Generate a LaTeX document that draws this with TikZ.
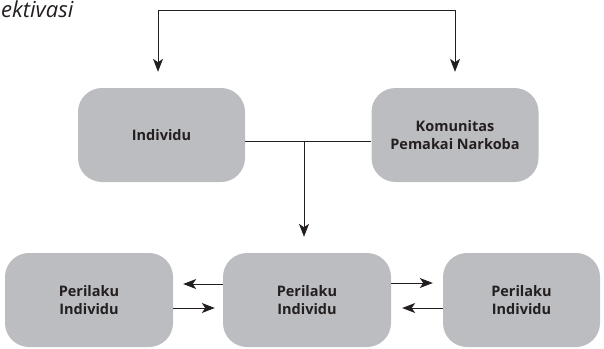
\documentclass[tikz,border=0pt]{standalone}
\usepackage{fontspec}
\setmainfont{Open Sans}
\usetikzlibrary{arrows.meta}
\definecolor{boxgray}{HTML}{BCBDC0}
\definecolor{ink}{HTML}{231F20}
\begin{document}
\begin{tikzpicture}[x=1pt,y=-1pt,
  box/.style={fill=boxgray, rounded corners=24pt, minimum width=#1, minimum height=94pt, align=center, font=\bfseries\fontsize{14.5}{18}\selectfont, text=ink, inner sep=0pt},
  box/.default=167pt,
  conn/.style={draw=ink, line width=1pt},
  arr/.style={conn, -{Stealth[length=13pt,width=10pt,inset=3.5pt]}}]
\useasboundingbox (0,0) rectangle (604,348);
\node[anchor=north west, inner sep=0pt, font=\itshape\fontsize{22}{24}\selectfont, text=ink] (lab) at (1,0.5) {ektivasi};
\node[box] (ind) at (161.5,135) {Individu};
\node[box] (kom) at (455,135) {Komunitas\\Pemakai Narkoba};
\node[box=168pt] (p1) at (89,300) {Perilaku\\Individu};
\node[box=168pt] (p2) at (307,300) {Perilaku\\Individu};
\node[box=157pt] (p3) at (521.5,300) {Perilaku\\Individu};
\coordinate (tl) at (158,10);
\coordinate (tr) at (455,10);
\coordinate (j) at (304,141);
% top feedback line
\draw[conn] (tl) -- (tr);
\draw[arr] (tl) -- ([yshift=16pt]tl |- ind.north);
\draw[arr] (tr) -- ([yshift=16pt]kom.north);
% horizontal link and drop
\draw[conn] (ind.east |- j) -- (kom.west |- j);
\draw[arr] (j) -- ([yshift=16pt]j |- p2.north);
% bottom arrows
\draw[arr, shorten >=10pt] ([yshift=16pt]p2.west) -- ([yshift=16pt]p1.east);
\draw[arr, shorten >=8pt] ([yshift=-8pt]p1.east) -- ([yshift=-8pt]p2.west);
\draw[arr, shorten >=10pt] ([yshift=17pt]p2.east) -- ([yshift=17pt]p3.west);
\draw[arr, shorten >=11pt] ([yshift=-8pt]p3.west) -- ([yshift=-8pt]p2.east);
\end{tikzpicture}
\end{document}
